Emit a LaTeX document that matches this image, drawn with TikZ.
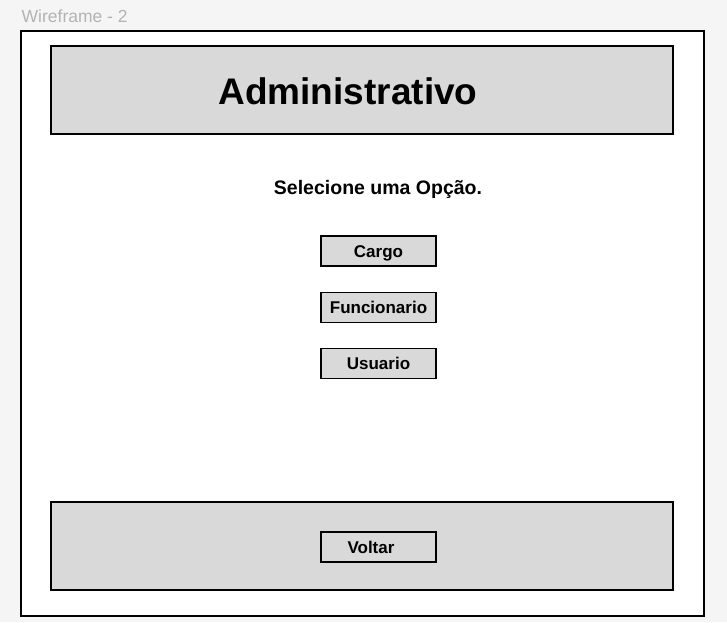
\documentclass[tikz,border=0pt]{standalone}
\usepackage{fontspec}
\setmainfont{Liberation Sans}
\definecolor{pagebg}{HTML}{F5F5F5}
\definecolor{boxgray}{HTML}{D9D9D9}
\definecolor{labelgray}{HTML}{B3B3B3}
\tikzset{
  panel/.style={draw=black,fill=boxgray,line width=2pt},
  btn/.style={draw=black,fill=boxgray,line width=1.3pt,minimum width=115pt,minimum height=30pt,inner sep=0pt,
    text height=12.2pt,text depth=0pt,font=\fontsize{17}{19}\selectfont\bfseries},
}
\begin{document}
\begin{tikzpicture}[x=1pt,y=-1pt]
%%
\fill [pagebg] (0,0) rectangle (727,622);
\useasboundingbox (0,0) rectangle (727,622);
\node (label) at (21.5,22.7) [anchor=base west,text=labelgray,inner sep=0pt,font=\fontsize{17.5}{20}\selectfont] {Wireframe - 2};
\draw [fill=white,line width=2pt] (21,31) rectangle (704,616);
\draw [panel] (51,46) rectangle (673,134);
\node (title) at (348,104.3) [anchor=base,inner sep=0pt,font=\fontsize{37}{40}\selectfont\bfseries] {Administrativo};
\node (prompt) at (378,194) [anchor=base,inner sep=0pt,font=\fontsize{19.5}{22}\selectfont\bfseries] {Selecione uma Opção.};
\node (cargo) at (378.5,251) [btn] {Cargo};
\node (funcionario) at (378.5,307.5) [btn] {Funcionario};
\node (usuario) at (378.5,363.5) [btn] {Usuario};
\draw [panel] (51,502) rectangle (673,590);
\node (voltar) at (378.5,547) [btn] {\hspace*{-15pt}Voltar};
%
\end{tikzpicture}
\end{document}
